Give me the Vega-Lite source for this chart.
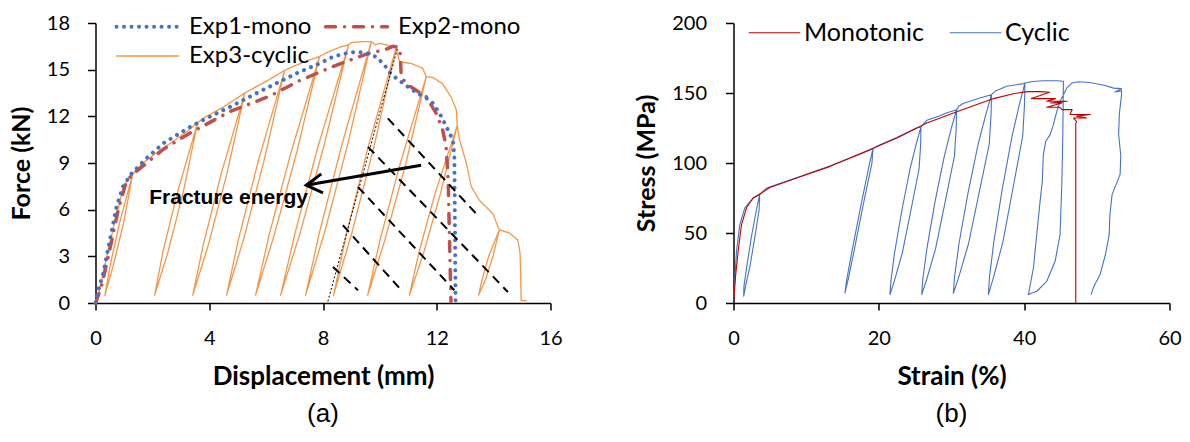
{
  "$schema": "https://vega.github.io/schema/vega-lite/v6.json",
  "background": "white",
  "padding": {"left": 8.5, "top": 13, "right": 5, "bottom": 5},
  "bounds": "flush",
  "spacing": 183,
  "resolve": {"scale": {"color": "independent", "strokeDash": "independent", "strokeWidth": "independent"}, "legend": {"color": "independent", "strokeDash": "independent", "strokeWidth": "independent"}},
  "config": {"view": {"stroke": null}, "font": "Lato"},
  "datasets": {
    "amain": [
      {"s":"Exp3-cyclic","x":0,"y":0},{"s":"Exp3-cyclic","x":0.1,"y":0.5},{"s":"Exp3-cyclic","x":0.35,"y":2.6},{"s":"Exp3-cyclic","x":0.65,"y":5.0},{"s":"Exp3-cyclic","x":0.95,"y":7.2},{"s":"Exp3-cyclic","x":1.15,"y":8.0},{"s":"Exp3-cyclic","x":1.31,"y":8.3},
      {"s":"Exp3-cyclic","x":0.85,"y":5.18},{"s":"Exp3-cyclic","x":0.52,"y":2.45},{"s":"Exp3-cyclic","x":0.33,"y":0.5},{"s":"Exp3-cyclic","x":0.63,"y":2.45},{"s":"Exp3-cyclic","x":0.99,"y":5.18},{"s":"Exp3-cyclic","x":1.31,"y":8.3},
      {"s":"Exp3-cyclic","x":1.6,"y":8.9},{"s":"Exp3-cyclic","x":2.14,"y":9.65},{"s":"Exp3-cyclic","x":2.73,"y":10.4},{"s":"Exp3-cyclic","x":3.2,"y":11.0},{"s":"Exp3-cyclic","x":3.59,"y":11.6},
      {"s":"Exp3-cyclic","x":2.89,"y":7.16},{"s":"Exp3-cyclic","x":2.37,"y":3.28},{"s":"Exp3-cyclic","x":2.08,"y":0.5},{"s":"Exp3-cyclic","x":2.55,"y":3.28},{"s":"Exp3-cyclic","x":3.09,"y":7.16},{"s":"Exp3-cyclic","x":3.59,"y":11.6},
      {"s":"Exp3-cyclic","x":3.84,"y":11.93},{"s":"Exp3-cyclic","x":4.5,"y":12.6},{"s":"Exp3-cyclic","x":5.25,"y":13.5},
      {"s":"Exp3-cyclic","x":4.42,"y":8.3},{"s":"Exp3-cyclic","x":3.79,"y":3.75},{"s":"Exp3-cyclic","x":3.42,"y":0.5},{"s":"Exp3-cyclic","x":3.97,"y":3.75},{"s":"Exp3-cyclic","x":4.62,"y":8.3},{"s":"Exp3-cyclic","x":5.25,"y":13.5},
      {"s":"Exp3-cyclic","x":5.5,"y":13.75},{"s":"Exp3-cyclic","x":6.1,"y":14.35},{"s":"Exp3-cyclic","x":6.65,"y":14.95},
      {"s":"Exp3-cyclic","x":5.73,"y":9.17},{"s":"Exp3-cyclic","x":5.03,"y":4.11},{"s":"Exp3-cyclic","x":4.61,"y":0.5},{"s":"Exp3-cyclic","x":5.21,"y":4.11},{"s":"Exp3-cyclic","x":5.93,"y":9.17},{"s":"Exp3-cyclic","x":6.65,"y":14.95},
      {"s":"Exp3-cyclic","x":7.0,"y":15.25},{"s":"Exp3-cyclic","x":7.5,"y":15.6},{"s":"Exp3-cyclic","x":7.88,"y":15.85},
      {"s":"Exp3-cyclic","x":6.88,"y":9.71},{"s":"Exp3-cyclic","x":6.1,"y":4.34},{"s":"Exp3-cyclic","x":5.63,"y":0.5},{"s":"Exp3-cyclic","x":6.28,"y":4.34},{"s":"Exp3-cyclic","x":7.08,"y":9.71},{"s":"Exp3-cyclic","x":7.88,"y":15.85},
      {"s":"Exp3-cyclic","x":8.2,"y":16.15},{"s":"Exp3-cyclic","x":8.6,"y":16.45},{"s":"Exp3-cyclic","x":8.9,"y":16.6},
      {"s":"Exp3-cyclic","x":7.84,"y":10.16},{"s":"Exp3-cyclic","x":7.02,"y":4.53},{"s":"Exp3-cyclic","x":6.51,"y":0.5},{"s":"Exp3-cyclic","x":7.2,"y":4.53},{"s":"Exp3-cyclic","x":8.04,"y":10.16},{"s":"Exp3-cyclic","x":8.9,"y":16.6},
      {"s":"Exp3-cyclic","x":9.0,"y":16.75},{"s":"Exp3-cyclic","x":9.4,"y":16.8},{"s":"Exp3-cyclic","x":9.7,"y":16.8},
      {"s":"Exp3-cyclic","x":8.68,"y":10.28},{"s":"Exp3-cyclic","x":7.88,"y":4.58},{"s":"Exp3-cyclic","x":7.39,"y":0.5},{"s":"Exp3-cyclic","x":8.06,"y":4.58},{"s":"Exp3-cyclic","x":8.88,"y":10.28},{"s":"Exp3-cyclic","x":9.7,"y":16.8},
      {"s":"Exp3-cyclic","x":9.85,"y":16.6},{"s":"Exp3-cyclic","x":10.0,"y":16.7},{"s":"Exp3-cyclic","x":10.3,"y":16.55},{"s":"Exp3-cyclic","x":10.57,"y":16.4},
      {"s":"Exp3-cyclic","x":9.59,"y":10.04},{"s":"Exp3-cyclic","x":8.83,"y":4.48},{"s":"Exp3-cyclic","x":8.37,"y":0.5},{"s":"Exp3-cyclic","x":9.01,"y":4.48},{"s":"Exp3-cyclic","x":9.79,"y":10.04},{"s":"Exp3-cyclic","x":10.57,"y":16.4},
      {"s":"Exp3-cyclic","x":10.69,"y":15.5},{"s":"Exp3-cyclic","x":11.1,"y":15.4},{"s":"Exp3-cyclic","x":11.5,"y":15.1},{"s":"Exp3-cyclic","x":11.63,"y":14.55},
      {"s":"Exp3-cyclic","x":10.71,"y":8.93},{"s":"Exp3-cyclic","x":10.0,"y":4.01},{"s":"Exp3-cyclic","x":9.57,"y":0.5},{"s":"Exp3-cyclic","x":10.17,"y":4.01},{"s":"Exp3-cyclic","x":10.91,"y":8.93},{"s":"Exp3-cyclic","x":11.63,"y":14.55},
      {"s":"Exp3-cyclic","x":11.86,"y":14.5},{"s":"Exp3-cyclic","x":12.2,"y":14.1},{"s":"Exp3-cyclic","x":12.5,"y":13.26},{"s":"Exp3-cyclic","x":12.69,"y":12.4},{"s":"Exp3-cyclic","x":12.72,"y":11.4},
      {"s":"Exp3-cyclic","x":11.94,"y":7.04},{"s":"Exp3-cyclic","x":11.37,"y":3.23},{"s":"Exp3-cyclic","x":11.04,"y":0.5},{"s":"Exp3-cyclic","x":11.54,"y":3.23},{"s":"Exp3-cyclic","x":12.13,"y":7.04},{"s":"Exp3-cyclic","x":12.72,"y":11.4},
      {"s":"Exp3-cyclic","x":12.8,"y":10.5},{"s":"Exp3-cyclic","x":13.04,"y":9.0},{"s":"Exp3-cyclic","x":13.21,"y":7.5},{"s":"Exp3-cyclic","x":13.5,"y":6.6},{"s":"Exp3-cyclic","x":13.97,"y":5.75},{"s":"Exp3-cyclic","x":14.2,"y":4.7},
      {"s":"Exp3-cyclic","x":13.83,"y":3.02},{"s":"Exp3-cyclic","x":13.6,"y":1.55},{"s":"Exp3-cyclic","x":13.47,"y":0.5},{"s":"Exp3-cyclic","x":13.72,"y":1.55},{"s":"Exp3-cyclic","x":13.98,"y":3.02},{"s":"Exp3-cyclic","x":14.2,"y":4.7},
      {"s":"Exp3-cyclic","x":14.56,"y":4.5},{"s":"Exp3-cyclic","x":14.85,"y":4.05},{"s":"Exp3-cyclic","x":14.93,"y":3.2},{"s":"Exp3-cyclic","x":14.97,"y":0.15},{"s":"Exp3-cyclic","x":15.14,"y":0.15},
      {"s":"Exp2-mono","x":0,"y":0},{"s":"Exp2-mono","x":0.2,"y":1.0},{"s":"Exp2-mono","x":0.5,"y":3.4},{"s":"Exp2-mono","x":0.8,"y":6.0},{"s":"Exp2-mono","x":1.05,"y":7.6},{"s":"Exp2-mono","x":1.25,"y":8.2},{"s":"Exp2-mono","x":1.8,"y":9.0},{"s":"Exp2-mono","x":2.4,"y":9.9},{"s":"Exp2-mono","x":3.3,"y":10.9},{"s":"Exp2-mono","x":4.72,"y":12.3},{"s":"Exp2-mono","x":6.13,"y":13.3},{"s":"Exp2-mono","x":7.18,"y":14.3},{"s":"Exp2-mono","x":8.35,"y":15.2},{"s":"Exp2-mono","x":9.52,"y":16.0},{"s":"Exp2-mono","x":10.2,"y":16.3},{"s":"Exp2-mono","x":10.46,"y":16.5},{"s":"Exp2-mono","x":10.65,"y":16.45},{"s":"Exp2-mono","x":10.72,"y":16.0},{"s":"Exp2-mono","x":10.75,"y":14.5},{"s":"Exp2-mono","x":11.0,"y":14.0},{"s":"Exp2-mono","x":11.63,"y":13.26},{"s":"Exp2-mono","x":11.98,"y":12.19},{"s":"Exp2-mono","x":12.21,"y":11.11},{"s":"Exp2-mono","x":12.33,"y":10.04},{"s":"Exp2-mono","x":12.4,"y":8.0},{"s":"Exp2-mono","x":12.45,"y":4.0},{"s":"Exp2-mono","x":12.5,"y":0.1},
      {"s":"Exp1-mono","x":0,"y":0},{"s":"Exp1-mono","x":0.03,"y":0.4},{"s":"Exp1-mono","x":0.27,"y":1.9},{"s":"Exp1-mono","x":0.5,"y":4.0},{"s":"Exp1-mono","x":0.74,"y":6.2},{"s":"Exp1-mono","x":0.97,"y":7.5},{"s":"Exp1-mono","x":1.26,"y":8.3},{"s":"Exp1-mono","x":1.79,"y":9.3},{"s":"Exp1-mono","x":2.38,"y":10.26},{"s":"Exp1-mono","x":3.31,"y":11.3},{"s":"Exp1-mono","x":3.9,"y":11.87},{"s":"Exp1-mono","x":4.72,"y":12.6},{"s":"Exp1-mono","x":5.89,"y":13.7},{"s":"Exp1-mono","x":7.06,"y":14.76},{"s":"Exp1-mono","x":7.88,"y":15.4},{"s":"Exp1-mono","x":8.35,"y":15.83},{"s":"Exp1-mono","x":8.8,"y":16.05},{"s":"Exp1-mono","x":9.17,"y":16.15},{"s":"Exp1-mono","x":9.52,"y":16.07},{"s":"Exp1-mono","x":9.9,"y":15.8},{"s":"Exp1-mono","x":10.2,"y":15.2},{"s":"Exp1-mono","x":10.4,"y":14.7},{"s":"Exp1-mono","x":10.9,"y":14.0},{"s":"Exp1-mono","x":11.3,"y":13.5},{"s":"Exp1-mono","x":11.8,"y":13.0},{"s":"Exp1-mono","x":12.1,"y":12.2},{"s":"Exp1-mono","x":12.4,"y":11.1},{"s":"Exp1-mono","x":12.57,"y":10.47},{"s":"Exp1-mono","x":12.62,"y":9.4},{"s":"Exp1-mono","x":12.64,"y":5.0},{"s":"Exp1-mono","x":12.66,"y":0.15}
    ],
    "adash": [
      {"g":"A","x":10.28,"y":11.87},{"g":"A","x":13.44,"y":5.64},
      {"g":"B","x":9.58,"y":10.04},{"g":"B","x":14.5,"y":0.71},
      {"g":"C","x":9.23,"y":7.46},{"g":"C","x":12.62,"y":0.82},
      {"g":"D","x":8.7,"y":5.0},{"g":"D","x":10.81,"y":0.71},
      {"g":"E","x":8.35,"y":2.32},{"g":"E","x":9.23,"y":0.82}
    ],
    "adot": [{"x":8.17,"y":0.1},{"x":10.63,"y":16.45}],
    "aarrow": [
      {"g":"shaft","x":11.45,"y":8.86},{"g":"shaft","x":7.5,"y":7.6},
      {"g":"head","x":7.94,"y":8.3},{"g":"head","x":7.41,"y":7.57},{"g":"head","x":8.0,"y":7.08}
    ],
    "atext": [{"x":4.68,"y":6.74,"t":"Fracture energy"}],
    "bmain": [
      {"s":"Cyclic","x":0,"y":0},{"s":"Cyclic","x":0.41,"y":37},{"s":"Cyclic","x":0.87,"y":56},{"s":"Cyclic","x":1.56,"y":68},{"s":"Cyclic","x":2.7,"y":75},{"s":"Cyclic","x":3.6,"y":77.5},
      {"s":"Cyclic","x":3.53,"y":66.6},{"s":"Cyclic","x":2.98,"y":48.4},{"s":"Cyclic","x":2.28,"y":26.6},{"s":"Cyclic","x":1.66,"y":12.1},{"s":"Cyclic","x":1.4,"y":4.8},{"s":"Cyclic","x":1.44,"y":12.1},{"s":"Cyclic","x":1.84,"y":26.6},{"s":"Cyclic","x":2.5,"y":48.4},{"s":"Cyclic","x":3.16,"y":66.6},{"s":"Cyclic","x":3.6,"y":77.5},
      {"s":"Cyclic","x":4.55,"y":82.1},{"s":"Cyclic","x":8.68,"y":89.5},{"s":"Cyclic","x":13.26,"y":97.8},{"s":"Cyclic","x":17.5,"y":106.5},{"s":"Cyclic","x":19.2,"y":110.2},
      {"s":"Cyclic","x":19.05,"y":99.9},{"s":"Cyclic","x":17.8,"y":68.9},{"s":"Cyclic","x":16.62,"y":38},{"s":"Cyclic","x":15.8,"y":17.3},{"s":"Cyclic","x":15.33,"y":7},{"s":"Cyclic","x":15.6,"y":17.3},{"s":"Cyclic","x":16.34,"y":38},{"s":"Cyclic","x":17.5,"y":68.9},{"s":"Cyclic","x":18.73,"y":99.9},{"s":"Cyclic","x":19.2,"y":110.2},
      {"s":"Cyclic","x":19.7,"y":111.9},{"s":"Cyclic","x":22.45,"y":118.2},{"s":"Cyclic","x":25.2,"y":125},{"s":"Cyclic","x":25.8,"y":125.8},
      {"s":"Cyclic","x":25.76,"y":113.8},{"s":"Cyclic","x":25.54,"y":95.9},{"s":"Cyclic","x":24.4,"y":65.9},{"s":"Cyclic","x":23.24,"y":36.0},{"s":"Cyclic","x":22.13,"y":15.6},{"s":"Cyclic","x":21.53,"y":6},{"s":"Cyclic","x":21.66,"y":15.6},{"s":"Cyclic","x":22.17,"y":36.0},{"s":"Cyclic","x":23.16,"y":65.9},{"s":"Cyclic","x":24.3,"y":95.9},{"s":"Cyclic","x":25.16,"y":113.8},{"s":"Cyclic","x":25.8,"y":125.8},
      {"s":"Cyclic","x":26.6,"y":130.5},{"s":"Cyclic","x":28.4,"y":133.8},{"s":"Cyclic","x":29.3,"y":135.7},{"s":"Cyclic","x":30.7,"y":138.1},
      {"s":"Cyclic","x":30.65,"y":124.9},{"s":"Cyclic","x":30.41,"y":105.1},{"s":"Cyclic","x":29.12,"y":72.1},{"s":"Cyclic","x":27.82,"y":39.0},{"s":"Cyclic","x":26.57,"y":16.6},{"s":"Cyclic","x":25.9,"y":6},{"s":"Cyclic","x":26.04,"y":16.6},{"s":"Cyclic","x":26.62,"y":39.0},{"s":"Cyclic","x":27.72,"y":72.1},{"s":"Cyclic","x":29.02,"y":105.1},{"s":"Cyclic","x":29.98,"y":124.9},{"s":"Cyclic","x":30.7,"y":138.1},
      {"s":"Cyclic","x":31.0,"y":140.5},{"s":"Cyclic","x":31.6,"y":142.5},{"s":"Cyclic","x":33.9,"y":146.4},{"s":"Cyclic","x":35.5,"y":148.8},
      {"s":"Cyclic","x":35.45,"y":134.6},{"s":"Cyclic","x":35.19,"y":113.4},{"s":"Cyclic","x":33.77,"y":77.9},{"s":"Cyclic","x":32.35,"y":42.5},{"s":"Cyclic","x":30.99,"y":18.3},{"s":"Cyclic","x":30.25,"y":7},{"s":"Cyclic","x":30.41,"y":18.3},{"s":"Cyclic","x":31.03,"y":42.5},{"s":"Cyclic","x":32.25,"y":77.9},{"s":"Cyclic","x":33.66,"y":113.4},{"s":"Cyclic","x":34.72,"y":134.6},{"s":"Cyclic","x":35.5,"y":148.8},
      {"s":"Cyclic","x":36.0,"y":151.2},{"s":"Cyclic","x":37.6,"y":154.8},{"s":"Cyclic","x":39.9,"y":156.7},{"s":"Cyclic","x":40.1,"y":157.1},
      {"s":"Cyclic","x":40.05,"y":142.0},{"s":"Cyclic","x":39.8,"y":119.3},{"s":"Cyclic","x":38.45,"y":81.6},{"s":"Cyclic","x":37.08,"y":43.8},{"s":"Cyclic","x":35.77,"y":18.1},{"s":"Cyclic","x":35.07,"y":6},{"s":"Cyclic","x":35.22,"y":18.1},{"s":"Cyclic","x":35.83,"y":43.8},{"s":"Cyclic","x":36.99,"y":81.6},{"s":"Cyclic","x":38.34,"y":119.3},{"s":"Cyclic","x":39.35,"y":142.0},{"s":"Cyclic","x":40.1,"y":157.1},
      {"s":"Cyclic","x":41.2,"y":158.2},{"s":"Cyclic","x":42.6,"y":158.8},{"s":"Cyclic","x":44.5,"y":158.7},{"s":"Cyclic","x":45.4,"y":158.4},
      {"s":"Cyclic","x":45.32,"y":120.3},{"s":"Cyclic","x":45.18,"y":84.6},{"s":"Cyclic","x":44.94,"y":48.9},{"s":"Cyclic","x":44.26,"y":29.8},{"s":"Cyclic","x":43.11,"y":15.5},{"s":"Cyclic","x":41.73,"y":8.4},{"s":"Cyclic","x":40.58,"y":6},
      {"s":"Cyclic","x":41.27,"y":25},{"s":"Cyclic","x":41.73,"y":48.9},{"s":"Cyclic","x":42.19,"y":72.6},{"s":"Cyclic","x":42.5,"y":86.9},{"s":"Cyclic","x":42.64,"y":106},{"s":"Cyclic","x":42.97,"y":115.5},{"s":"Cyclic","x":43.57,"y":120.3},{"s":"Cyclic","x":44.02,"y":127.4},{"s":"Cyclic","x":44.49,"y":136.9},{"s":"Cyclic","x":44.94,"y":144.1},{"s":"Cyclic","x":45.87,"y":153.6},{"s":"Cyclic","x":46.56,"y":157.1},
      {"s":"Cyclic","x":47.5,"y":158},{"s":"Cyclic","x":49,"y":157.5},{"s":"Cyclic","x":51,"y":155.5},{"s":"Cyclic","x":52.3,"y":153.5},{"s":"Cyclic","x":53.4,"y":153.1},{"s":"Cyclic","x":52.5,"y":150.7},{"s":"Cyclic","x":53.4,"y":151.7},{"s":"Cyclic","x":53.4,"y":148.8},{"s":"Cyclic","x":53.1,"y":135},{"s":"Cyclic","x":53.0,"y":120.3},{"s":"Cyclic","x":53.3,"y":105},{"s":"Cyclic","x":53.2,"y":91.7},{"s":"Cyclic","x":52.6,"y":84},{"s":"Cyclic","x":52.1,"y":77.4},{"s":"Cyclic","x":51.8,"y":63},{"s":"Cyclic","x":51.7,"y":48.9},{"s":"Cyclic","x":51.2,"y":35},{"s":"Cyclic","x":50.45,"y":20.3},{"s":"Cyclic","x":49.6,"y":12},{"s":"Cyclic","x":49.2,"y":6},
      {"s":"Monotonic","x":0,"y":0},{"s":"Monotonic","x":0.3,"y":20},{"s":"Monotonic","x":0.64,"y":37},{"s":"Monotonic","x":1.1,"y":56},{"s":"Monotonic","x":1.79,"y":68},{"s":"Monotonic","x":2.7,"y":75},{"s":"Monotonic","x":3.86,"y":78.6},{"s":"Monotonic","x":5.0,"y":82.5},{"s":"Monotonic","x":8.7,"y":89.3},{"s":"Monotonic","x":13.3,"y":97.6},{"s":"Monotonic","x":18.8,"y":109.6},{"s":"Monotonic","x":22.5,"y":117.9},{"s":"Monotonic","x":26.6,"y":128.6},{"s":"Monotonic","x":31.2,"y":137.5},{"s":"Monotonic","x":35.8,"y":146},{"s":"Monotonic","x":38.5,"y":149.5},{"s":"Monotonic","x":40.5,"y":151},{"s":"Monotonic","x":42.2,"y":151},{"s":"Monotonic","x":43.5,"y":150.5},{"s":"Monotonic","x":41.0,"y":146},{"s":"Monotonic","x":44.3,"y":146},{"s":"Monotonic","x":43.1,"y":144.1},{"s":"Monotonic","x":45.9,"y":144.1},{"s":"Monotonic","x":43.6,"y":142.9},{"s":"Monotonic","x":45.2,"y":142.9},{"s":"Monotonic","x":43.1,"y":139.8},{"s":"Monotonic","x":44.9,"y":139.8},{"s":"Monotonic","x":45.2,"y":138.1},{"s":"Monotonic","x":46.6,"y":138.1},{"s":"Monotonic","x":46.3,"y":134.6},{"s":"Monotonic","x":49.1,"y":134.6},{"s":"Monotonic","x":47.2,"y":133.5},{"s":"Monotonic","x":48.6,"y":132.1},{"s":"Monotonic","x":46.8,"y":132.1},{"s":"Monotonic","x":47.2,"y":129.8},{"s":"Monotonic","x":47.1,"y":128},{"s":"Monotonic","x":47.1,"y":0}
    ]
  },
  "hconcat": [
    {
      "width": 455,
      "height": 280,
      "title": {"text": "(a)", "orient": "bottom", "anchor": "middle", "font": "'Liberation Sans Narrow', 'Liberation Sans', sans-serif", "fontSize": 26, "fontWeight": "normal", "color": "black", "offset": 12},
      "encoding": {
        "x": {"field": "x", "type": "quantitative", "scale": {"domain": [0, 16], "nice": false, "zero": false},
          "axis": {"title": "Displacement (mm)", "values": [0, 4, 8, 12, 16], "grid": false, "domainColor": "black", "domainWidth": 1.5, "tickColor": "black", "tickWidth": 1.5, "tickSize": 7, "labelPadding": 18, "labelFont": "Lato", "labelFontSize": 20, "labelColor": "black", "labelFlush": false, "titleFont": "Lato", "titleFontSize": 26, "titleFontWeight": "bold", "titleColor": "black", "titlePadding": 15}},
        "y": {"field": "y", "type": "quantitative", "scale": {"domain": [0, 18], "nice": false, "zero": false},
          "axis": {"title": "Force (kN)", "values": [0, 3, 6, 9, 12, 15, 18], "grid": false, "domainColor": "black", "domainWidth": 1.5, "tickColor": "black", "tickWidth": 1.5, "tickSize": 8, "labelPadding": 18, "labelFont": "Lato", "labelFontSize": 20, "labelColor": "black", "labelFlush": false, "titleFont": "Lato", "titleFontSize": 25, "titleFontWeight": "bold", "titleColor": "black", "titlePadding": 12}}
      },
      "layer": [
        {
          "data": {"name": "amain"},
          "mark": {"type": "line", "strokeCap": "round", "strokeJoin": "round"},
          "encoding": {
            "color": {"field": "s", "type": "nominal",
              "scale": {"domain": ["Exp1-mono", "Exp2-mono", "Exp3-cyclic"], "range": ["#4472C4", "#C0504D", "#F4964A"]},
              "legend": {"orient": "none", "legendX": 39.5, "legendY": -9, "direction": "horizontal", "columns": 2, "title": null, "symbolType": "M-3,0H3", "symbolSize": 427, "labelFont": "Lato", "labelFontSize": 24, "labelColor": "black", "labelOffset": 29, "columnPadding": 6, "rowPadding": 5, "padding": 0, "labelLimit": 400,
                "encode": {"symbols": {"update": {"strokeCap": {"value": "round"}}}}}},
            "strokeDash": {"field": "s", "type": "nominal",
              "scale": {"domain": ["Exp1-mono", "Exp2-mono", "Exp3-cyclic"], "range": [[0.01, 7.5], [10, 9, 0.01, 9], [1, 0]]}},
            "strokeWidth": {"field": "s", "type": "nominal",
              "scale": {"type": "ordinal", "domain": ["Exp1-mono", "Exp2-mono", "Exp3-cyclic"], "range": [4, 3.5, 1.3]}},
            "order": {"value": null}
          }
        },
        {
          "data": {"name": "adash"},
          "mark": {"type": "line", "color": "black", "strokeWidth": 2, "strokeDash": [9, 6]},
          "encoding": {"detail": {"field": "g", "type": "nominal"}}
        },
        {
          "data": {"name": "adot"},
          "mark": {"type": "line", "color": "black", "strokeWidth": 1, "strokeDash": [2, 2]},
          "encoding": {}
        },
        {
          "data": {"name": "aarrow"},
          "mark": {"type": "line", "color": "black", "strokeWidth": 3, "strokeJoin": "miter"},
          "encoding": {"detail": {"field": "g", "type": "nominal"}, "order": {"value": null}}
        },
        {
          "data": {"name": "atext"},
          "mark": {"type": "text", "font": "'Liberation Sans', Arial, sans-serif", "fontSize": 21, "fontWeight": "bold", "color": "black", "align": "center", "baseline": "middle"},
          "encoding": {"text": {"field": "t", "type": "nominal"}}
        }
      ]
    },
    {
      "width": 436,
      "height": 280,
      "title": {"text": "(b)", "orient": "bottom", "anchor": "middle", "font": "'Liberation Sans Narrow', 'Liberation Sans', sans-serif", "fontSize": 26, "fontWeight": "normal", "color": "black", "offset": 12},
      "data": {"name": "bmain"},
      "mark": {"type": "line", "strokeWidth": 1.1, "strokeJoin": "round"},
      "encoding": {
        "x": {"field": "x", "type": "quantitative", "scale": {"domain": [0, 60], "nice": false, "zero": false},
          "axis": {"title": "Strain (%)", "values": [0, 20, 40, 60], "grid": false, "domainColor": "black", "domainWidth": 1.5, "tickColor": "black", "tickWidth": 1.5, "tickSize": 7, "labelPadding": 18, "labelFont": "Lato", "labelFontSize": 20, "labelColor": "black", "labelFlush": false, "titleFont": "Lato", "titleFontSize": 26, "titleFontWeight": "bold", "titleColor": "black", "titlePadding": 15}},
        "y": {"field": "y", "type": "quantitative", "scale": {"domain": [0, 200], "nice": false, "zero": false},
          "axis": {"title": "Stress (MPa)", "values": [0, 50, 100, 150, 200], "grid": false, "domainColor": "black", "domainWidth": 1.5, "tickColor": "black", "tickWidth": 1.5, "tickSize": 8, "labelPadding": 19, "labelFont": "Lato", "labelFontSize": 20, "labelColor": "black", "labelFlush": false, "titleFont": "Lato", "titleFontSize": 25, "titleFontWeight": "bold", "titleColor": "black", "titlePadding": 12}},
        "color": {"field": "s", "type": "nominal",
          "scale": {"domain": ["Monotonic", "Cyclic"], "range": ["#C00000", "#4472C4"]},
          "legend": {"orient": "none", "legendX": 28.5, "legendY": -3, "direction": "horizontal", "columns": 2, "title": null, "symbolType": "M-3,0H3", "symbolSize": 296, "symbolStrokeWidth": 1.2, "labelFont": "Lato", "labelFontSize": 25, "labelColor": "black", "labelOffset": 17, "columnPadding": 23, "padding": 0, "labelLimit": 400}},
        "order": {"value": null}
      }
    }
  ]
}
